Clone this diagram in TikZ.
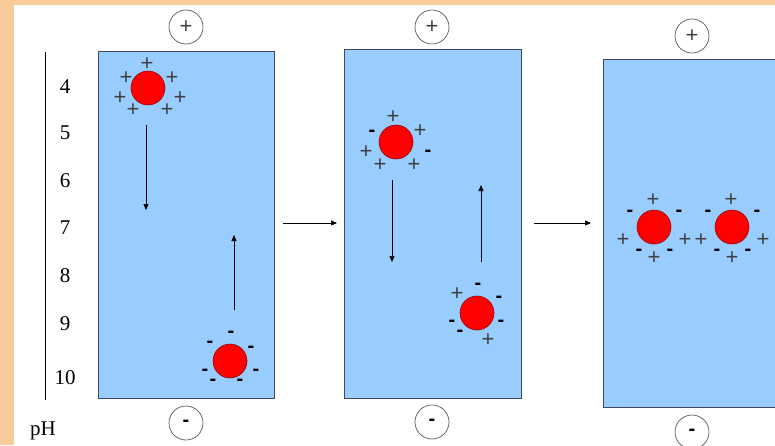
\documentclass[tikz,border=0pt]{standalone}
\usepackage{fontspec}
\setmainfont{Liberation Serif}
\newfontfamily\signfont{Liberation Sans}
\usetikzlibrary{arrows.meta}
\definecolor{peach}{HTML}{F8CB9A}
\definecolor{gelblue}{HTML}{99CCFF}
\definecolor{gelline}{HTML}{3F4A5A}
\definecolor{ballred}{HTML}{FF0000}
\definecolor{ballline}{HTML}{8B1010}
\tikzset{
  gel/.style={fill=gelblue, draw=gelline, line width=0.9pt},
  ball/.style={circle, fill=ballred, draw=ballline, line width=0.6pt, minimum size=34pt, inner sep=0pt},
  pole/.style={circle, draw=black!65, line width=0.7pt, minimum size=34pt, inner sep=0pt},
  plus/.style={inner sep=0pt, font=\signfont\fontsize{22}{22}\selectfont, text=black!75},
  minus/.style={inner sep=0pt, font=\signfont\bfseries\fontsize{20}{20}\selectfont},
  phnum/.style={inner sep=0pt, font=\fontsize{21}{21}\selectfont},
  mig/.style={-{Triangle[length=6pt,width=5pt]}, line width=0.6pt},
}
\begin{document}
\begin{tikzpicture}[x=1pt, y=-1pt]
  \useasboundingbox (0,0) rectangle (775,445);
  % page frame
  \fill[peach] (0,0) rectangle (775,445);
  \fill[white] (14,5) rectangle (775,445);

  % pH scale
  \coordinate (axtop) at (45,52);
  \coordinate (axbot) at (45,400);
  \draw[line width=0.7pt] (axtop) -- (axbot);
  \node[phnum] (p4) at (65,87) {4};
  \node[phnum] (p5) at (65,133) {5};
  \node[phnum] (p6) at (65,181) {6};
  \node[phnum] (p7) at (65,228) {7};
  \node[phnum] (p8) at (65,276) {8};
  \node[phnum] (p9) at (65,324) {9};
  \node[phnum] (p10) at (65,378) {10};
  \node[phnum] (ph) at (43,431) {pH};

  % gels
  \draw[gel] (98,51) rectangle (274,398);
  \draw[gel] (344,49) rectangle (521,398);
  \draw[gel] (603,59) rectangle (790,407);

  % electrodes
  \node[pole] (a1) at (186,27) {};
  \node[plus] at (a1) {+};
  \node[pole] (k1) at (186,423) {};
  \node[minus] at (k1) {-};
  \node[pole] (a2) at (432,27) {};
  \node[plus] at (a2) {+};
  \node[pole] (k2) at (432,422) {};
  \node[minus] at (k2) {-};
  \node[pole] (a3) at (692,36) {};
  \node[plus] at (a3) {+};
  \node[pole] (k3) at (692,432) {};
  \node[minus] at (k3) {-};

  % gel 1: positive protein
  \node[ball] (b1) at (148,88) {};
  \foreach \x/\y in {147/64,126/78,172/78,120/98,180/98,133/110,167/110}
    \node[plus] at (\x,\y) {+};
  \coordinate (d1s) at (146,125);
  \coordinate (d1e) at (146,210);
  \draw[mig] (d1s) -- (d1e);

  % gel 1: negative protein
  \node[ball] (b2) at (230,361) {};
  \foreach \x/\y in {231/334,210/344,251/349,205/372,256/372,213/382,240/382}
    \node[minus] at (\x,\y) {-};
  \coordinate (u1s) at (234,310);
  \coordinate (u1e) at (234,235);
  \draw[mig] (u1s) -- (u1e);

  % between gels
  \coordinate (h1s) at (283,223);
  \coordinate (h1e) at (337,223);
  \draw[mig] (h1s) -- (h1e);
  \coordinate (h2s) at (534,223);
  \coordinate (h2e) at (591,223);
  \draw[mig] (h2s) -- (h2e);

  % gel 2
  \node[ball] (b3) at (396,142) {};
  \foreach \x/\y in {393/117,420/131,366/152,380/165,414/165}
    \node[plus] at (\x,\y) {+};
  \foreach \x/\y in {372/133,428/153}
    \node[minus] at (\x,\y) {-};
  \coordinate (d2s) at (392,180);
  \coordinate (d2e) at (392,262);
  \draw[mig] (d2s) -- (d2e);

  \node[ball] (b4) at (477,313) {};
  \foreach \x/\y in {457/294,488/340}
    \node[plus] at (\x,\y) {+};
  \foreach \x/\y in {478/286,499/299,452/323,501/323,460/333}
    \node[minus] at (\x,\y) {-};
  \coordinate (u2s) at (481,262);
  \coordinate (u2e) at (481,185);
  \draw[mig] (u2s) -- (u2e);

  % gel 3: both at the isoelectric point
  \node[ball] (b5) at (654,227) {};
  \node[ball] (b6) at (732,227) {};
  \foreach \c in {654,732} {
    \node[plus] at (\c-1,200) {+};
    \node[plus] at (\c-31,240) {+};
    \node[plus] at (\c+31,240) {+};
    \node[plus] at (\c,258) {+};
    \node[minus] at (\c-24,213) {-};
    \node[minus] at (\c+25,213) {-};
    \node[minus] at (\c-15,252) {-};
    \node[minus] at (\c+16,252) {-};
  }
\end{tikzpicture}
\end{document}
